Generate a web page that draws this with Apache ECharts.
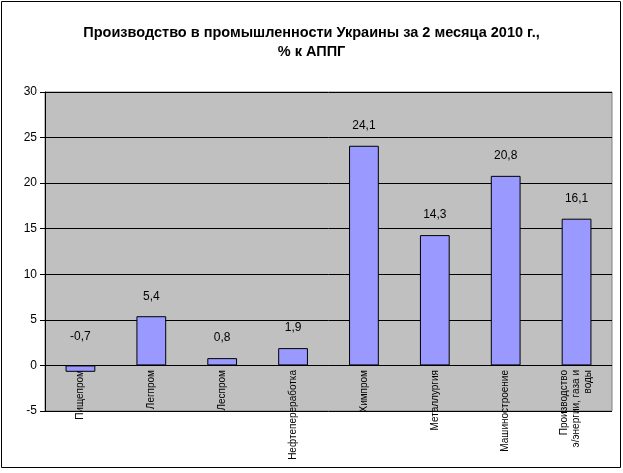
<!DOCTYPE html><html><head><meta charset="utf-8"><script src="https://cdn.jsdelivr.net/npm/echarts@6/dist/echarts.min.js"></script>
<style>html,body{margin:0;padding:0;background:#fff}#c{width:623px;height:473px}</style></head><body><div id="c"></div><script>
const categories=["Пищепром","Легпром","Леспром","Нефтепереработка","Химпром","Металлургия","Машиностроение","Производство\nэ/энергии, газа и\nводы"];
const values=[-0.7,5.4,0.8,1.9,24.1,14.3,20.8,16.1];
const labels=["-0,7","5,4","0,8","1,9","24,1","14,3","20,8","16,1"];
const ch=echarts.init(document.getElementById('c'));
ch.setOption({animation:false,
title:{text:"Производство в промышленности Украины за 2 месяца 2010 г.,\n% к АППГ",left:'center',top:18,textStyle:{fontFamily:'Liberation Sans',fontSize:14.5,fontWeight:'bold',color:'#000',lineHeight:19}},
graphic:[{type:'rect',shape:{x:1.5,y:1.5,width:619,height:466},style:{fill:'none',stroke:'#000',lineWidth:1}}],
grid:{left:45,right:11,top:92,bottom:62,show:true,outerBoundsMode:'none',containLabel:false,backgroundColor:'#c0c0c0',borderColor:'#808080',borderWidth:1},
xAxis:{type:'category',data:categories,axisLine:{show:false,onZero:false},axisTick:{show:false},
axisLabel:{rotate:90,interval:0,margin:-41,fontFamily:'Liberation Sans',fontSize:10,color:'#000',lineHeight:12}},
yAxis:{type:'value',min:-5,max:30,interval:5,axisLine:{show:true,lineStyle:{color:'#000'}},axisTick:{show:true,lineStyle:{color:'#000'}},
splitLine:{lineStyle:{color:'#000',width:1}},axisLabel:{fontFamily:'Liberation Sans',fontSize:12,color:'#000'}},
series:[{type:'bar',data:values.map((v,i)=>v<0?{value:v,label:{distance:23}}:v),barWidth:'42%',itemStyle:{color:'#9999ff',borderColor:'#000',borderWidth:1},
markLine:{silent:true,symbol:'none',label:{show:false},lineStyle:{color:'#000',type:'solid',width:1},data:[{yAxis:0}]},
label:{show:true,position:'top',distance:14,fontFamily:'Liberation Sans',fontSize:12,color:'#000',formatter:p=>labels[p.dataIndex]}}]
});
</script></body></html>
